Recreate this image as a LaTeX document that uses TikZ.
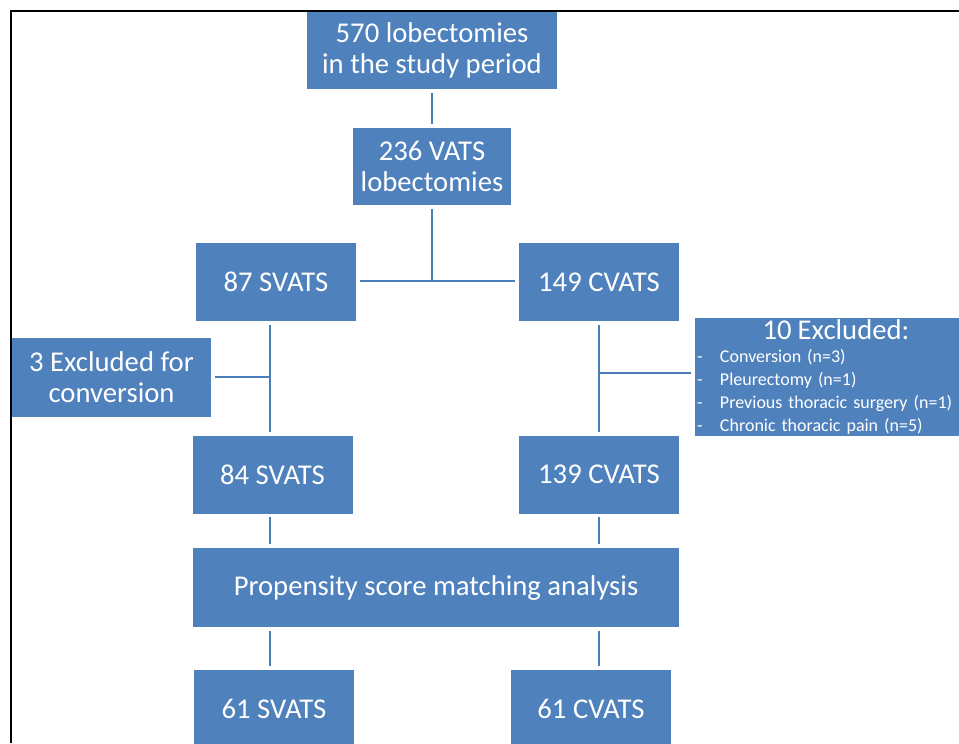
\documentclass[tikz,border=0pt]{standalone}
\usepackage{fontspec}
\setmainfont{Carlito}
\definecolor{boxblue}{RGB}{79,129,189}
\definecolor{lineblue}{RGB}{74,126,187}
\newcommand{\exitem}[1]{\makebox[18.75pt][l]{\hspace{1.5pt}-}#1}
\tikzset{every picture/.style={line width=0.75pt}}
\tikzset{
  flowbox/.style={fill=boxblue, text=white, inner sep=0pt, align=center, font=\fontsize{21.5}{23.25}\selectfont},
  smallbox/.style={flowbox, minimum width=120pt, minimum height=58.5pt},
  link/.style={draw=lineblue, line width=1.9pt, shorten <=2.5pt, shorten >=2.5pt}
}

\begin{document}
\begin{tikzpicture}[x=0.75pt,y=0.75pt,yscale=-1,xscale=1]
\clip (0,0) rectangle (959,743);

% Text Node
\node [flowbox, minimum width=187.5pt, minimum height=58.5pt] (total) at (432,50) {570 lobectomies\\in the study period};
\node [flowbox, minimum width=118.5pt, minimum height=57.75pt] (vats) at (432,166.5) {236 VATS\\lobectomies};
\node [smallbox] (svats) at (276,282) {87 SVATS};
\node [smallbox] (cvats) at (599,282) {149 CVATS};
\node [flowbox, minimum width=149.25pt, minimum height=59.25pt] (exsvats) at (111.5,377.5) {3 Excluded for\\conversion};
\node [flowbox, text width=211.5pt, minimum height=88.5pt, align=left, font=\fontsize{13.5}{17.25}\selectfont] (excvats) at (836,377) {\centering\fontsize{21.5}{22}\selectfont 10 Excluded:\par
  \raggedright\fontsize{13.5}{17.25}\selectfont
  \exitem{Conversion (n=3)}\\
  \exitem{Pleurectomy (n=1)}\\
  \exitem{Previous thoracic surgery (n=1)}\\
  \exitem{Chronic thoracic pain (n=5)}};
\node [smallbox] (svatsb) at (272.5,474.5) {84 SVATS};
\node [smallbox] (cvatsb) at (599,474.5) {139 CVATS};
\node [flowbox, minimum width=364.5pt, minimum height=59.25pt] (psm) at (436,587.5) {Propensity score matching analysis};
\node [smallbox] (svatsm) at (274,709) {61 SVATS};
\node [smallbox] (cvatsm) at (591,709) {61 CVATS};

\coordinate (vjoin) at (432,281);
\coordinate (ljoin) at (270,377);
\coordinate (rjoin) at (599,373);

%Straight Lines
\draw [link] (total.south) -- (vats.north);
\draw [link, shorten >=0pt] (vats.south) -- (vjoin);
\draw [link] (svats.east |- vjoin) -- (cvats.west |- vjoin);
\draw [link] (svats.south -| ljoin) -- (svatsb.north -| ljoin);
\draw [link, shorten >=0pt] (exsvats.east |- ljoin) -- (ljoin);
\draw [link] (cvats.south) -- (cvatsb.north);
\draw [link, shorten <=0pt] (rjoin) -- (excvats.west |- rjoin);
\draw [link] (svatsb.south -| ljoin) -- (psm.north -| ljoin);
\draw [link] (cvatsb.south) -- (psm.north -| rjoin);
\draw [link] (psm.south -| ljoin) -- (svatsm.north -| ljoin);
\draw [link] (psm.south -| rjoin) -- (cvatsm.north -| rjoin);

%Frame
\draw [line width=1.9pt] (11,743) -- (11,11) -- (959,11);

\end{tikzpicture}
\end{document}
